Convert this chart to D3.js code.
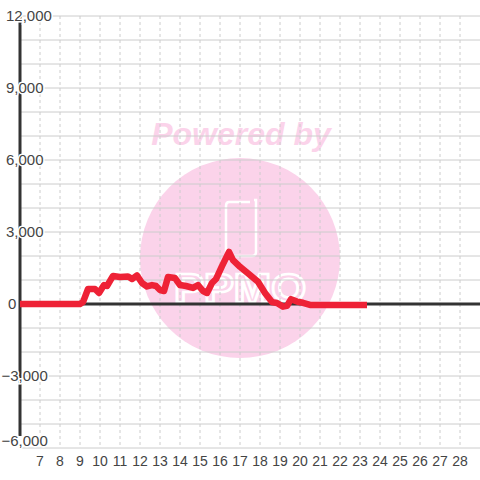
<!DOCTYPE html>
<html>
<head>
<meta charset="utf-8">
<script src="https://cdn.jsdelivr.net/npm/d3@7"></script>
<style>
  html, body { margin: 0; padding: 0; background: #fff; }
  svg { display: block; }
</style>
</head>
<body>
<svg id="chart" width="480" height="480"></svg>
<script>
// ---- data ----
const days = [6, 9, 9.15, 9.4, 9.75, 9.95, 10.2, 10.35, 10.65, 11.0, 11.4, 11.6, 11.85, 12.1, 12.35, 12.6, 12.8, 13.0, 13.2, 13.4, 13.75, 14.0, 14.3, 14.65, 14.9, 15.15, 15.35, 15.6, 15.8, 16.1, 16.45, 16.65, 17.0, 17.5, 17.9, 18.25, 18.6, 18.85, 19.15, 19.35, 19.55, 19.85, 20.15, 20.5, 23.35];
const values = [0, 0, 80, 625, 625, 460, 790, 750, 1170, 1125, 1150, 1040, 1190, 875, 730, 790, 750, 580, 540, 1125, 1080, 790, 750, 670, 790, 540, 460, 875, 1040, 1580, 2170, 1830, 1550, 1210, 930, 460, 80, 40, -110, -80, 200, 100, 50, -40, -40];
const xTickLabels = [7, 8, 9, 10, 11, 12, 13, 14, 15, 16, 17, 18, 19, 20, 21, 22, 23, 24, 25, 26, 27, 28];
const yTickLabels = [12000, 9000, 6000, 3000, 0, -3000, -6000];
const yGridValues = d3.range(-6000, 12001, 1000);

const svg = d3.select("#chart");
const W = 480, H = 480;

const x = d3.scaleLinear().domain([6, 29]).range([20, 480]);
const y = d3.scaleLinear().domain([-6000, 12000]).range([448, 16]);

const gridColor = "#cccccc";
const textColor = "#444444";

// ---- watermark ----
const wm = svg.append("g");
wm.append("circle").attr("cx", 240).attr("cy", 258).attr("r", 100).attr("fill", "#fbd3ea");
wm.append("text")
  .attr("x", 241).attr("y", 145)
  .attr("text-anchor", "middle")
  .attr("font-family", "Liberation Sans, Arial, sans-serif")
  .attr("font-size", 32).attr("font-weight", "bold").attr("font-style", "italic")
  .attr("fill", "#fbd3ea")
  .text("Powered by");
wm.append("path")
  .attr("d", "M229,202 L250,202 M254,200 L256,200 L256,252 Q256,256 252,256 L230,256 Q226,256 226,252 L226,206 Q226,202 229,202")
  .attr("fill", "none").attr("stroke", "#fff").attr("stroke-width", 2.5);
wm.append("text")
  .attr("x", 174).attr("y", 302)
  .attr("textLength", 132).attr("lengthAdjust", "spacingAndGlyphs")
  .attr("font-family", "Liberation Sans, Arial, sans-serif")
  .attr("font-size", 40).attr("font-weight", "bold")
  .attr("fill", "none").attr("stroke", "#fff").attr("stroke-width", 2.5)
  .text("PPMO");

// ---- grid ----
svg.append("g").selectAll("line.h").data(yGridValues).join("line")
  .attr("x1", 20).attr("x2", W)
  .attr("y1", d => y(d)).attr("y2", d => y(d))
  .attr("stroke", gridColor).attr("stroke-width", 1);

svg.append("g").selectAll("line.v").data(xTickLabels).join("line")
  .attr("x1", d => x(d)).attr("x2", d => x(d))
  .attr("y1", y(12000)).attr("y2", y(-6000))
  .attr("stroke", gridColor).attr("stroke-width", 1)
  .attr("stroke-dasharray", "3,3");

// ---- axes lines ----
svg.append("line")
  .attr("x1", x(6)).attr("x2", W)
  .attr("y1", y(0)).attr("y2", y(0))
  .attr("stroke", "#333").attr("stroke-width", 3);
svg.append("line")
  .attr("x1", x(6)).attr("x2", x(6))
  .attr("y1", y(12000)).attr("y2", 436)
  .attr("stroke", "#333").attr("stroke-width", 3);

// ---- series line ----
const data = days.map((d, i) => ({ day: d, value: values[i] }));
const line = d3.line().x(d => x(d.day)).y(d => y(d.value));
svg.append("path")
  .datum(data)
  .attr("d", line)
  .attr("fill", "none")
  .attr("stroke", "#ee2236")
  .attr("stroke-width", 6.5)
  .attr("stroke-linejoin", "round")
  .attr("stroke-linecap", "butt");

// ---- y labels ----
const fmt = d3.format(",");
svg.append("g").selectAll("text").data(yTickLabels).join("text")
  .attr("x", d => d < 0 ? 1.5 : (d === 0 ? 8 : 6))
  .attr("y", d => d === -6000 ? y(d) - 7 : y(d))
  .attr("dy", "0.35em")
  .attr("font-family", "Liberation Sans, Arial, sans-serif")
  .attr("font-size", 15)
  .attr("fill", textColor)
  .attr("stroke", "#fff").attr("stroke-width", 3)
  .attr("paint-order", "stroke")
  .text(d => fmt(d));

// ---- x labels ----
svg.append("g").selectAll("text").data(xTickLabels).join("text")
  .attr("x", d => x(d))
  .attr("y", 461)
  .attr("dy", "0.35em")
  .attr("text-anchor", "middle")
  .attr("font-family", "Liberation Sans, Arial, sans-serif")
  .attr("font-size", 14)
  .attr("fill", textColor)
  .text(d => d);
</script>
</body>
</html>
